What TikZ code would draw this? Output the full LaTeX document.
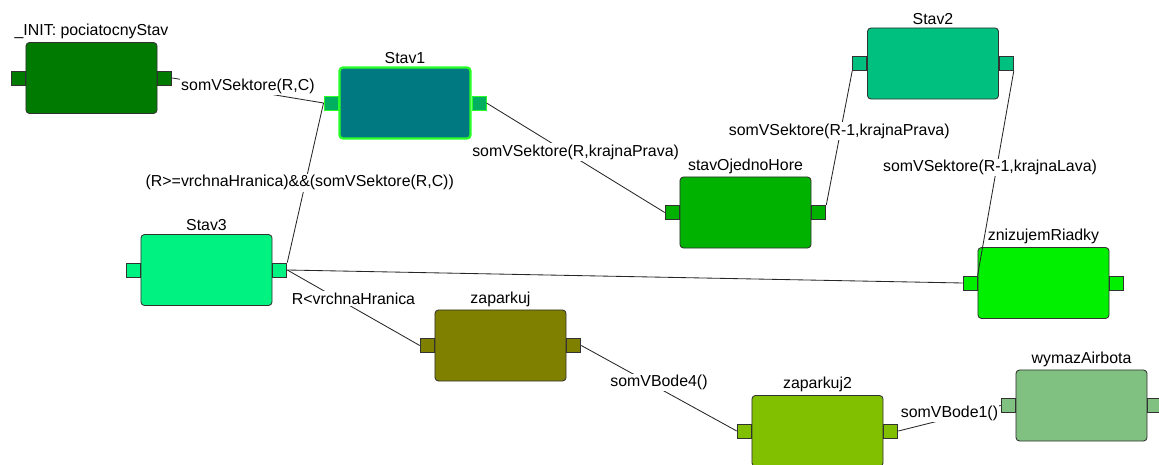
\documentclass[tikz,border=0pt]{standalone}
\usepackage{fontspec}
\setmainfont{Liberation Sans}
\usetikzlibrary{positioning}
\definecolor{InitGreen}{RGB}{0,122,0}
\definecolor{StavOneTeal}{RGB}{0,122,128}
\definecolor{StavOnePort}{RGB}{0,176,96}
\definecolor{StavOneRim}{RGB}{40,255,40}
\definecolor{StavTwoGreen}{RGB}{0,192,128}
\definecolor{OjednoGreen}{RGB}{0,178,0}
\definecolor{StavThreeGreen}{RGB}{0,242,128}
\definecolor{ZnizGreen}{RGB}{0,240,0}
\definecolor{ParkOlive}{RGB}{128,128,0}
\definecolor{ParkTwoGreen}{RGB}{128,192,0}
\definecolor{WymazGreen}{RGB}{128,192,128}
\definecolor{RimGray}{RGB}{50,50,50}
\tikzset{
    state/.style={rectangle, draw=RimGray, line width=0.6pt, rounded corners=2.5pt, minimum width=3.275cm, minimum height=1.775cm},
    port/.style={rectangle, draw=RimGray, line width=0.6pt, minimum width=0.35cm, minimum height=0.35cm, inner sep=0pt},
    statelbl/.style={font=\fontsize{11.3}{13}\selectfont, inner sep=1pt, label distance=1pt},
    edge/.style={draw=black!85, line width=0.6pt},
    guard/.style={fill=white, inner sep=1pt, font=\fontsize{11.3}{13}\selectfont}
}
\begin{document}
\begin{tikzpicture}[x=0.025cm, y=-0.025cm]
    \useasboundingbox (0,0) rectangle (1159,465);

    % states
    \node[state, fill=InitGreen, label={[statelbl]above:{\_INIT: pociatocnyStav}}] (init) at (91.5,78) {};
    \node[state, fill=StavOneTeal, draw=StavOneRim, line width=1.6pt, label={[statelbl]above:Stav1}] (s1) at (405,103) {};
    \node[state, fill=StavTwoGreen, label={[statelbl]above:Stav2}] (s2) at (933,63.5) {};
    \node[state, fill=OjednoGreen, label={[statelbl]above:stavOjednoHore}] (soh) at (745.5,212.5) {};
    \node[state, fill=StavThreeGreen, label={[statelbl]above:Stav3}] (s3) at (206.5,270) {};
    \node[state, fill=ZnizGreen, label={[statelbl]above:znizujemRiadky}] (zr) at (1043.5,283) {};
    \node[state, fill=ParkOlive, label={[statelbl]above:zaparkuj}] (zp) at (500.5,345.5) {};
    \node[state, fill=ParkTwoGreen, label={[statelbl]above:zaparkuj2}] (zp2) at (817.5,431) {};
    \node[state, fill=WymazGreen, label={[statelbl]above:wymazAirbota}] (wa) at (1081.5,405.5) {};

    % ports
    \foreach \n/\c in {init/InitGreen, s2/StavTwoGreen, soh/OjednoGreen, s3/StavThreeGreen, zr/ZnizGreen, zp/ParkOlive, zp2/ParkTwoGreen, wa/WymazGreen} {
        \node[port, fill=\c, anchor=east] (\n-w) at (\n.west) {};
        \node[port, fill=\c, anchor=west] (\n-e) at (\n.east) {};
    }
    \node[port, fill=StavOnePort, draw=StavOneRim, anchor=east] (s1-w) at (s1.west) {};
    \node[port, fill=StavOnePort, draw=StavOneRim, anchor=west] (s1-e) at (s1.east) {};

    % transitions
    \draw[edge] (init-e.east) -- node[guard, yshift=3pt] {somVSektore(R,C)} (s1-w.west);
    \draw[edge] (s1-e.east) -- node[guard, yshift=4pt] {somVSektore(R,krajnaPrava)} (soh-w.west);
    \draw[edge] (soh-e.north east) -- node[guard, yshift=5pt] {somVSektore(R-1,krajnaPrava)} (s2-w.south west);
    \draw[edge] (s2-e.south east) -- node[guard, xshift=-4pt, yshift=4pt] {somVSektore(R-1,krajnaLava)} (zr-w.north east);
    \draw[edge] (s3-e.north east) -- node[guard, xshift=-4pt] {(R>=vrchnaHranica)\&\&(somVSektore(R,C))} (s1-w.west);
    \draw[edge] (zr-w.west) -- (s3-e.east);
    \draw[edge] (s3-e.east) -- node[guard, yshift=6.5pt] {R<vrchnaHranica} (zp-w.west);
    \draw[edge] (zp-e.east) -- node[guard, yshift=4pt] {somVBode4()} (zp2-w.west);
    \draw[edge] (zp2-e.east) -- node[guard, yshift=3.5pt] {somVBode1()} (wa-w.west);
\end{tikzpicture}
\end{document}
